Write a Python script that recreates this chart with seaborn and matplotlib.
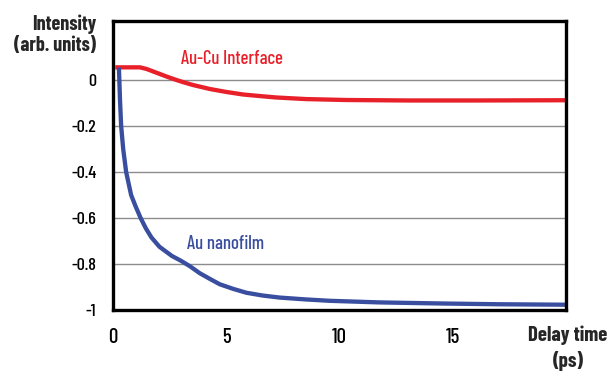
import numpy as np
import pandas as pd
import seaborn as sns
import matplotlib
matplotlib.use("Agg")
import matplotlib.pyplot as plt
from matplotlib import font_manager as fm

# ---- data ----
interface_time = [0.1, 0.6, 1.19, 1.48, 1.75, 2.07, 2.45, 2.8, 3.15, 3.54, 4.27, 5.0, 5.74,
                  6.5, 7.2, 8.53, 10.3, 13.0, 16.0, 20.0]
interface_int = [0.055, 0.055, 0.055, 0.048, 0.038, 0.026, 0.012, 0.0, -0.011, -0.022,
                 -0.039, -0.052, -0.063, -0.070, -0.076, -0.083, -0.087, -0.089, -0.089, -0.088]

film_time = [0.26, 0.28, 0.31, 0.36, 0.45, 0.58, 0.80, 1.0, 1.22, 1.45, 1.7, 2.05, 2.6,
             3.0, 3.4, 3.83, 4.3, 4.71, 5.3, 5.89, 6.6, 7.36, 8.5, 9.56, 11.76, 14.7, 17.0, 20.0]
film_int = [0.054, 0.0, -0.09, -0.2, -0.3, -0.4, -0.5, -0.55, -0.6, -0.645, -0.685, -0.725,
            -0.765, -0.786, -0.81, -0.84, -0.866, -0.888, -0.908, -0.925, -0.937, -0.946,
            -0.954, -0.96, -0.967, -0.972, -0.975, -0.977]

x_ticks = [0, 5, 10, 15]
x_tick_labels = ["0", "5", "10", "15"]
y_ticks = [0, -0.2, -0.4, -0.6, -0.8, -1]
y_tick_labels = ["0", "-0.2", "-0.4", "-0.6", "-0.8", "-1"]
series_names = ["Au-Cu Interface", "Au nanofilm"]
x_title = ["Delay time", "(ps)"]
y_title = ["Intensity", "(arb. units)"]

df = pd.concat([
    pd.DataFrame({"t": interface_time, "v": interface_int, "s": series_names[0]}),
    pd.DataFrame({"t": film_time, "v": film_int, "s": series_names[1]}),
])

sns.set_theme(style="white")
available = {f.name for f in fm.fontManager.ttflist}
pref = ["Barlow Condensed", "Barlow Semi Condensed", "Roboto Condensed", "Archivo Narrow",
        "Liberation Sans Narrow", "DejaVu Sans"]
main_font = next(f for f in pref if f in available)
plt.rcParams["font.family"] = [main_font, "DejaVu Sans"]

RED = "#e8202a"
BLUE = "#3a4ea0"

fig = plt.figure(figsize=(6.1, 3.8), dpi=100)
ax = fig.add_axes([113 / 610, 70 / 380, 453 / 610, 289 / 380])

sns.lineplot(data=df, x="t", y="v", hue="s", palette={series_names[0]: RED, series_names[1]: BLUE},
             linewidth=3.1, ax=ax, legend=False, sort=False, estimator=None,
             solid_joinstyle="round", solid_capstyle="butt")

ax.set_xlim(0, 20)
ax.set_ylim(-1.0, 0.2565)
ax.set_xticks(x_ticks)
ax.set_xticklabels(x_tick_labels, fontsize=15, fontweight="medium")
ax.set_yticks(y_ticks)
ax.set_yticklabels(y_tick_labels, fontsize=13, fontweight="medium")
ax.tick_params(axis="both", length=0, colors="black")
ax.tick_params(axis="x", pad=13)
ax.tick_params(axis="y", pad=12)
ax.set_xlabel("")
ax.set_ylabel("")
for yv in y_ticks[:-1]:
    ax.axhline(yv, color="#8c8c8c", linewidth=1.0, zorder=0)
for sp in ax.spines.values():
    sp.set_visible(True)
    sp.set_color("black")
    sp.set_linewidth(2.4)

ax.text(3.0, 0.093, series_names[0], color=RED, fontsize=13.5, fontweight="medium",
        va="center", ha="left")
ax.text(3.25, -0.715, series_names[1], color=BLUE, fontsize=13.5, fontweight="medium",
        va="center", ha="left")

H = 380
fig.text(96 / 610, 1 - 30 / H, y_title[0], ha="right", va="baseline", fontsize=14.5, fontweight="bold")
fig.text(96 / 610, 1 - 51 / H, y_title[1], ha="right", va="baseline", fontsize=14.5, fontweight="bold")
fig.text(568 / 610, 1 - 341 / H, x_title[0], ha="center", va="baseline", fontsize=15, fontweight="bold")
fig.text(568 / 610, 1 - 367 / H, x_title[1], ha="center", va="baseline", fontsize=15, fontweight="bold")

fig.savefig("out.png", dpi=100)
